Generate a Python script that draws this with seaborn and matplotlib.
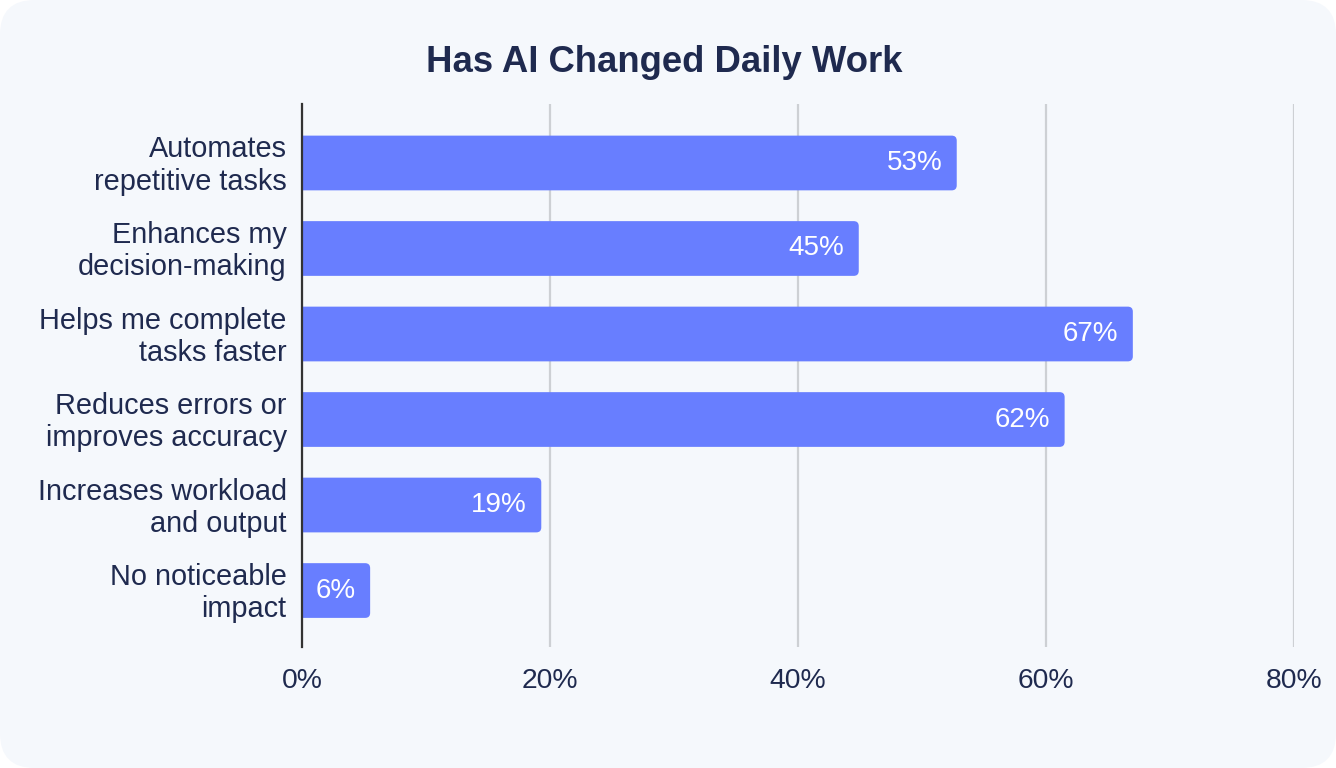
import matplotlib
matplotlib.use("Agg")
import matplotlib.pyplot as plt
from matplotlib.patches import FancyBboxPatch
from matplotlib.transforms import ScaledTranslation
import pandas as pd
import seaborn as sns

# Survey data (bar lengths, labels as printed)
categories = [
    "Automates\nrepetitive tasks",
    "Enhances my\ndecision-making",
    "Helps me complete\ntasks faster",
    "Reduces errors or\nimproves accuracy",
    "Increases workload\nand output",
    "No noticeable\nimpact",
]
shares = [52.8, 44.9, 67.0, 61.5, 19.3, 5.5]
share_labels = ["53%", "45%", "67%", "62%", "19%", "6%"]
x_ticks = [0, 20, 40, 60, 80]
x_tick_labels = ["0%", "20%", "40%", "60%", "80%"]

df = pd.DataFrame({"category": categories, "share": shares})

bg = "#f5f8fc"
bar_color = "#687eff"
text_color = "#1f2a4f"

sns.set_theme(style="white")
plt.rcParams["font.family"] = ["Liberation Sans", "DejaVu Sans"]

fig = plt.figure(figsize=(13.36, 7.68), dpi=100)
fig.patch.set_facecolor("white")
# rounded card background
card = FancyBboxPatch((0, 0), 1, 1, boxstyle="round,pad=0,rounding_size=0.026",
                      mutation_aspect=1336 / 768, transform=fig.transFigure,
                      facecolor=bg, edgecolor="none", zorder=-10)
fig.patches.append(card)

ax = fig.add_axes([0.226, 0.1576, 0.7426, 0.707])
ax.set_facecolor(bg)
ax.patch.set_alpha(0)

sns.barplot(data=df, x="share", y="category", orient="h", color=bar_color,
            width=0.64, saturation=1, ax=ax, zorder=3)

ax.set_xlim(0, 80)
ax.set_ylim(5.66, -0.69)

# swap plain bars for ones with rounded right corners
px_x = ax.bbox.width / 80
px_y = ax.bbox.height / 6.35
r = 5 / px_x
for p in list(ax.patches):
    x0, y0, w, h = p.get_x(), p.get_y(), p.get_width(), p.get_height()
    p.remove()
    fb = FancyBboxPatch((x0 - 2, y0), w + 2, h,
                        boxstyle=f"round,pad=0,rounding_size={r}",
                        mutation_aspect=px_x / px_y,
                        facecolor=bar_color, edgecolor="none", zorder=3)
    ax.add_patch(fb)

for i, (v, lab) in enumerate(zip(shares, share_labels)):
    ax.annotate(lab, xy=(v, i), xytext=(-10.5, 0), textcoords="offset points",
                ha="right", va="center", color="white", fontsize=20, zorder=4)

ax.set_xticks(x_ticks)
ax.set_xticklabels(x_tick_labels)
ax.tick_params(axis="x", length=0, pad=15, labelsize=20.3, labelcolor=text_color)
ax.tick_params(axis="y", length=0, pad=11, labelsize=20.8, labelcolor=text_color)
nudge = ScaledTranslation(0, 2.5 / 100, fig.dpi_scale_trans)
for lbl in ax.get_yticklabels():
    lbl.set_linespacing(1.2)
    lbl.set_transform(lbl.get_transform() + nudge)
ax.set_xlabel("")
ax.set_ylabel("")

ax.grid(True, axis="x", color="#cdd0d4", linewidth=1.6, zorder=0)
ax.set_axisbelow(True)
for s in ["top", "right", "bottom"]:
    ax.spines[s].set_visible(False)
ax.spines["left"].set_color("#333333")
ax.spines["left"].set_linewidth(1.6)
ax.spines["left"].set_zorder(5)

fig.text(0.4975, 1 - 72 / 768, "Has AI Changed Daily Work", ha="center",
         va="baseline", fontsize=26.3, fontweight="bold", color=text_color)

fig.savefig("out.png", dpi=100, facecolor="white")
